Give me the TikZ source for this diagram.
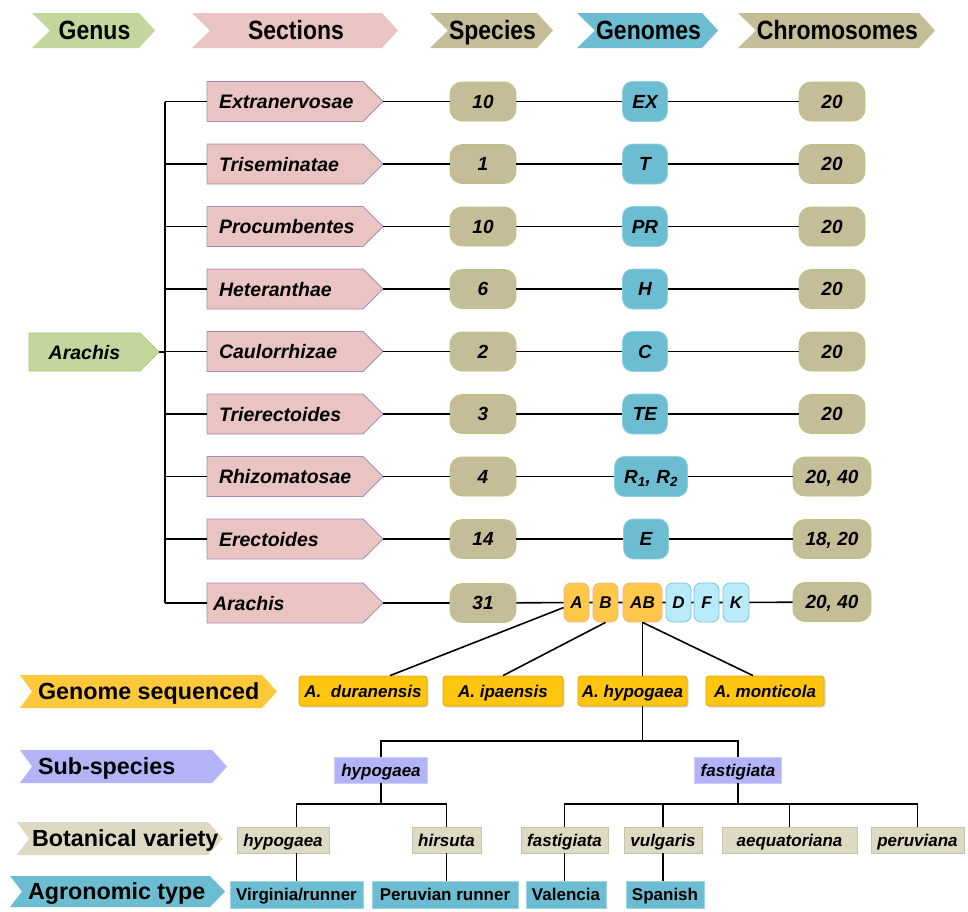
\documentclass[tikz,border=0pt]{standalone}
\usepackage{graphicx}
\usepackage{fontspec}
\setmainfont{Liberation Sans}
\usetikzlibrary{shadows}
\newcommand\fsz[1]{\fontsize{#1}{#1}\selectfont}
\newcommand\hdf{\fsz{23}\bfseries}
\newcommand\rowf{\fsz{23.3}\bfseries}
\newcommand\bi{\bfseries\itshape}
\newcommand\vc[1]{\raisebox{-0.36em}[0pt][0pt]{#1}}
\newcommand\hdt[1]{\raisebox{-0.41em}[0pt][0pt]{\scalebox{1}[1.15]{#1}}}
\definecolor{cgreen}{HTML}{C3D69B}
\definecolor{cgreenb}{HTML}{A9C97A}
\definecolor{cpink}{HTML}{EAC4C3}
\definecolor{cpinkb}{HTML}{A58BBF}
\definecolor{ctan}{HTML}{C4BD97}
\definecolor{ctanb}{HTML}{AFC97F}
\definecolor{cblue}{HTML}{6CBDD2}
\definecolor{cblueb}{HTML}{8FD0E1}
\definecolor{corange}{HTML}{FFC84A}
\definecolor{coranb}{HTML}{F4B183}
\definecolor{ccyan}{HTML}{B8EAF8}
\definecolor{ccyanb}{HTML}{79C5DE}
\definecolor{cgold}{HTML}{FFC50F}
\definecolor{cgoldb}{HTML}{DDA800}
\definecolor{cgoldl}{HTML}{FDC93A}
\definecolor{cpur}{HTML}{B4B3F7}
\definecolor{cpurb}{HTML}{CFCFF5}
\definecolor{cbei}{HTML}{DDD9C3}
\definecolor{cbeib}{HTML}{C6C2AE}
\definecolor{cagb}{HTML}{A0D3E1}
% #1 name, #2 x1, #3 x2, #4 yc, #5 h, #6 notch, #7 tip, #8 style, #9 text
\newcommand\shp[9]{%
  \filldraw[#8] (#2,{#4-#5/2}) -- ({#3-#7},{#4-#5/2}) -- (#3,#4) -- ({#3-#7},{#4+#5/2}) -- (#2,{#4+#5/2}) -- ({#2+#6},#4) -- cycle;
  \coordinate (#1-tip) at (#3,#4);
  \coordinate (#1-tail) at (#2,#4);
  \node[lbl] (#1) at ({(#2+#6+#3-#7)/2},#4) {#9};
}
\begin{document}
\begin{tikzpicture}[x=1pt,y=-1pt,
  lbl/.style={inner sep=0pt,text=black},
  ln/.style={line width=1.6pt,black},
  hdrG/.style={fill=cgreen,draw=none},
  hdrS/.style={fill=cpink,draw=none},
  hdrT/.style={fill=ctan,draw=none},
  hdrB/.style={fill=cblue,draw=none},
  sect/.style={fill=cpink,draw=cpinkb,line width=0.8pt},
  genus/.style={fill=cgreen,draw=cgreenb,line width=0.8pt},
  rgs/.style={fill=cgoldl,draw=none},
  rss/.style={fill=cpur,draw=none},
  rbv/.style={fill=cbei,draw=none},
  rat/.style={fill=cblue,draw=none},
  sp/.style={draw=ctanb,fill=ctan,rounded corners=12pt,minimum width=66pt,minimum height=39pt,inner sep=0pt,font={\fsz{19}\bi},line width=0.8pt},
  gn/.style={draw=cblueb,fill=cblue,rounded corners=10pt,minimum width=45pt,minimum height=40pt,inner sep=0pt,font={\fsz{19}\bi},line width=0.8pt},
  ga/.style={draw=coranb,fill=corange,rounded corners=7pt,minimum width=25pt,minimum height=39pt,inner sep=0pt,font={\fsz{17}\bi},line width=0.8pt},
  gd/.style={draw=ccyanb,fill=ccyan,rounded corners=7pt,minimum width=25pt,minimum height=39pt,inner sep=0pt,font={\fsz{17}\bi},line width=0.8pt},
  gs/.style={draw=cgoldb,fill=cgold,rounded corners=3pt,minimum height=30pt,inner sep=0pt,font={\fsz{17}\bi},line width=0.8pt,drop shadow={opacity=0.3,shadow xshift=1.5pt,shadow yshift=-1.5pt}},
  sub/.style={draw=cpurb,fill=cpur,minimum height=26pt,inner sep=0pt,font={\fsz{17}\bi},line width=0.8pt},
  bv/.style={draw=cbeib,fill=cbei,minimum height=26pt,inner sep=0pt,font={\fsz{17}\bi},line width=0.8pt},
  ag/.style={draw=cagb,fill=cblue,minimum height=27pt,inner sep=0pt,font={\fsz{17}\bfseries},line width=0.8pt}
]
\fill[white] (0,0) rectangle (968,911);
\useasboundingbox (0,0) rectangle (968,911);

% headers
\shp{hG}{32}{155}{30.5}{35}{18}{16}{hdrG}{\hdf\hdt{Genus}}
\shp{hS}{192}{398}{30.5}{35}{18}{16}{hdrS}{\hdf\hdt{Sections}}
\shp{hSp}{430}{553}{30.5}{35}{18}{16}{hdrT}{\hdf\hdt{Species}}
\shp{hGn}{577}{718}{30.5}{35}{18}{16}{hdrB}{\hdf\hdt{Genomes}}
\shp{hC}{738}{935}{30.5}{35}{18}{16}{hdrT}{\hdf\hdt{Chromosomes}}

% genus
\shp{gen}{29}{159}{352}{38}{0}{19}{genus}{\fsz{19.5}\bi\vc{Arachis}}
\coordinate (trunk) at (165,0);

% section rows
\foreach \i/\yy/\sn/\spn/\gx/\gnn/\gw/\chn/\cw in {
  1/101.5/Extranervosae/10/645/EX/45/20/66,
  2/164/Triseminatae/1/645/T/45/20/66,
  3/226.5/Procumbentes/10/645/PR/45/20/66,
  4/289/Heteranthae/6/645/H/45/20/66,
  5/351.5/Caulorrhizae/2/645/C/45/20/66,
  6/414/Trierectoides/3/645/TE/45/20/66,
  7/476.5/Rhizomatosae/4/651/{R\textsubscript{1}, R\textsubscript{2}}/73/{20, 40}/78,
  8/539/Erectoides/14/646/E/45/{18, 20}/78}{
  \shp{s\i}{207}{383}{\yy}{40}{0}{20}{sect}{\makebox[132pt][l]{\fsz{19.5}\bi\vc{\sn}}}
  \node[sp] (sp\i) at (483,\yy) {\vc{\spn}};
  \node[gn,minimum width=\gw pt] (g\i) at (\gx,\yy) {\vc{\gnn}};
  \node[sp,minimum width=\cw pt] (c\i) at (832,\yy) {\vc{\chn}};
  \draw[ln] (s\i-tip) -- (sp\i) -- (g\i) -- (c\i);
  \draw[ln] (trunk |- s\i-tail) -- (s\i-tail);
}
% Arachis row
\shp{s9}{207}{383}{603}{40}{0}{20}{sect}{\makebox[132pt][l]{\hspace{-6pt}\fsz{19.5}\bi\vc{Arachis}}}
\node[sp] (sp9) at (483,603) {\vc{31}};
\node[ga] (gA) at (576.5,602.5) {\vc{A}};
\node[ga] (gB) at (605.5,602.5) {\vc{B}};
\node[ga,minimum width=39pt] (gAB) at (642.5,602.5) {\vc{AB}};
\node[gd] (gD) at (678.5,602.5) {\vc{D}};
\node[gd] (gF) at (706.5,602.5) {\vc{F}};
\node[gd,minimum width=26pt] (gK) at (736,602.5) {\vc{K}};
\node[sp,minimum width=78pt] (c9) at (832,602) {\vc{20, 40}};
\draw[ln] (s9-tip) -- (sp9) -- (gA) -- (gB) -- (gAB) -- (gD) -- (gF) -- (gK) -- (c9);
\draw[ln] (trunk |- s9-tail) -- (s9-tail);
\draw[ln] (trunk |- s1-tail) -- (trunk |- s9-tail);
\draw[ln] (gen-tip) -- (trunk |- gen-tip);

% row labels
\shp{rGS}{20}{277}{691.5}{33}{12}{15}{rgs}{\makebox[218pt][l]{\rowf\vc{Genome sequenced}}}
\shp{rSS}{20}{227}{766.5}{33}{12}{15}{rss}{\makebox[168pt][l]{\rowf\vc{Sub-species}}}
\shp{rBV}{17}{223}{838.5}{33}{12}{15}{rbv}{\makebox[173pt][l]{\rowf\vc{Botanical variety}}}
\shp{rAT}{10}{225}{891.5}{31}{12}{15}{rat}{\makebox[176pt][l]{\rowf\vc{Agronomic type}}}

% genome sequenced
\node[gs,minimum width=128pt] (dur) at (363,691) {\vc{A.~~duranensis}};
\node[gs,minimum width=120pt] (ipa) at (503,691) {\vc{A. ipaensis}};
\node[gs,minimum width=109pt] (hyp) at (632.5,691) {\vc{A. hypogaea}};
\node[gs,minimum width=118pt] (mon) at (765,691) {\vc{A. monticola}};
\draw[ln] ([xshift=27pt]dur.north) -- (gA);
\draw[ln] (ipa.north) -- (gB.south);
\draw[ln] (gAB.south) -- (gAB.south |- hyp.north);
\draw[ln] (gAB.south) -- ([xshift=-12pt]mon.north);

% sub-species
\node[sub,minimum width=93pt] (subH) at (381,770) {\vc{hypogaea}};
\node[sub,minimum width=87pt] (subF) at (738,770) {\vc{fastigiata}};
\coordinate (ya) at (0,741);
\draw[ln] (gAB.south |- hyp.south) -- (gAB.south |- ya);
\draw[ln] (subH.north) |- (gAB.south |- ya) -| (subF.north);

% botanical variety
\node[bv,minimum width=92pt] (bvH) at (283,840) {\vc{hypogaea}};
\node[bv,minimum width=69pt] (bvHi) at (446.5,840) {\vc{hirsuta}};
\node[bv,minimum width=87pt] (bvFa) at (564.5,840) {\vc{fastigiata}};
\node[bv,minimum width=78pt] (bvVu) at (663,840) {\vc{vulgaris}};
\node[bv,minimum width=135pt] (bvAe) at (789.5,840) {\vc{aequatoriana}};
\node[bv,minimum width=93pt] (bvPe) at (917.5,840) {\vc{peruviana}};

% agronomic type
\node[ag,minimum width=133pt] (vir) at (296.5,894.5) {\vc{Virginia/runner}};
\node[ag,minimum width=146pt] (per) at (445,894.5) {\vc{Peruvian runner}};
\node[ag,minimum width=80pt] (val) at (566,894.5) {\vc{Valencia}};
\node[ag,minimum width=78pt] (spa) at (665,894.5) {\vc{Spanish}};

\coordinate (yb) at (0,804);
\draw[ln] (subH.south) -- (subH.south |- yb);
\draw[ln] (vir.north |- bvH.north) |- (subH.south |- yb) -| (bvHi.north);
\draw[ln] (subF.south) -- (subF.south |- yb);
\draw[ln] (bvFa.north) |- (subF.south |- yb) -| (bvPe.north);
\draw[ln] (bvVu.north) -- (bvVu.north |- yb);
\draw[ln] (bvAe.north) -- (bvAe.north |- yb);
\draw[ln] (vir.north |- bvH.south) -- (vir.north);
\draw[ln] (bvHi.south) -- (bvHi.south |- per.north);
\draw[ln] (bvFa.south) -- (bvFa.south |- val.north);
\draw[ln] (bvVu.south) -- (bvVu.south |- spa.north);
\end{tikzpicture}
\end{document}
